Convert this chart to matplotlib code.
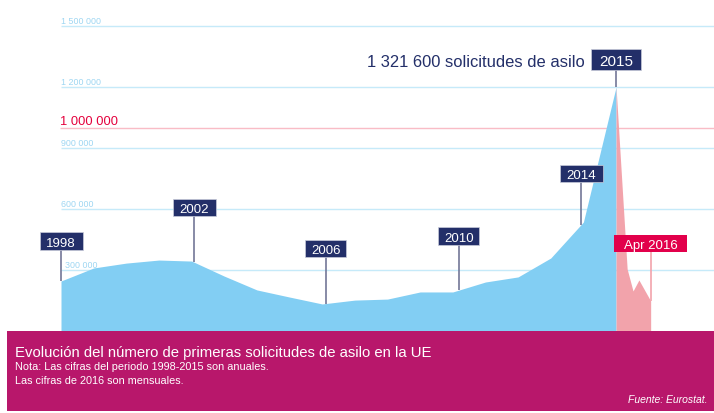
import matplotlib
matplotlib.use('Agg')
import matplotlib.pyplot as plt
from matplotlib.patches import Rectangle
import numpy as np

# ---------------- data ----------------
years = list(range(1998, 2016))
annual = [246000, 310000, 334000, 349000, 344000, 270000, 202000, 167000, 133000,
          152000, 157000, 192000, 192000, 241000, 266000, 359000, 536000, 1200000]
monthly_pos = [2015.0, 2015.34, 2015.52, 2015.70, 2016.06]
monthly = [1200000, 305000, 197000, 251000, 148000]

grid_values = [300000, 600000, 900000, 1200000, 1500000]
grid_labels = ['300 000', '600 000', '900 000', '1 200 000', '1 500 000']
ref_value = 1000000
ref_label = '1 000 000'

year_labels = ['1998', '2002', '2006', '2010', '2014', '2015']
peak_text = '1 321 600 solicitudes de asilo'
last_label = 'Apr 2016'

title = 'Evolución del número de primeras solicitudes de asilo en la UE'
note1 = 'Nota: Las cifras del periodo 1998-2015 son anuales.'
note2 = 'Las cifras de 2016 son mensuales.'
source = 'Fuente: Eurostat.'

# ---------------- style ----------------
plt.rcParams['font.family'] = ['Liberation Sans', 'DejaVu Sans']
BLUE = '#82CEF3'
PINK = '#F2A3AB'
GRID_BLUE = '#C6EAF9'
GRID_RED = '#F9BCC6'
TICK_BLUE = '#9ED6F2'
RED = '#E4003C'
CRIMSON = '#E2004B'
NAVY = '#232F69'
STEM = '#737797'
MAGENTA = '#B8176B'

W, H = 714, 414
fig = plt.figure(figsize=(W / 100, H / 100), dpi=100)
ax = fig.add_axes([0, 0, 1, 1])

PX_YEAR = 32.65   # pixels per year
X0 = 61           # pixel of first year
Y0 = 332          # pixel of value 0
PX_VAL = 203.3e-6 # pixels per unit value

ax.set_xlim(1998 - X0 / PX_YEAR, 1998 + (W - X0) / PX_YEAR)
ax.set_ylim(-(H - Y0) / PX_VAL, Y0 / PX_VAL)
ax.axis('off')

def dx(px):
    return px / PX_YEAR

def dy(px):
    return px / PX_VAL

def py2val(py):
    return (Y0 - py) / PX_VAL

xmax = ax.get_xlim()[1]

# gridlines
for v, lab in zip(grid_values, grid_labels):
    ax.hlines(v, years[0], xmax, color=GRID_BLUE, lw=1.0, zorder=1)
    xoff = 4 if v == 300000 else 0
    ax.text(years[0] + dx(xoff), v + dy(1), lab, ha='left', va='bottom',
            fontsize=6.4, color=TICK_BLUE, zorder=1)
ax.hlines(ref_value, years[0] - dx(1), xmax, color=GRID_RED, lw=1.0, zorder=1)
ax.text(years[0] - dx(1), ref_value + dy(0.5), ref_label, ha='left', va='bottom',
        fontsize=9.3, color=RED, zorder=1)

# areas
ax.fill_between(years, annual, 0, color=BLUE, lw=0, zorder=2)
ax.fill_between(monthly_pos, monthly, 0, color=PINK, lw=0, zorder=2)

# labels with stems
label_layout = {  # label: (x offset px, box centre py, box w, box h, fontsize)
    '1998': (0, 242, 43, 18, 9.5),
    '2002': (2.4, 208.5, 43, 17, 9.5),
    '2006': (3.7, 249.5, 41, 17, 9.5),
    '2010': (6, 237, 41, 18, 9.5),
    '2014': (-2.4, 174.5, 43, 17, 9.5),
    '2015': (0, 60.5, 50, 21, 11),
}
for lab in year_labels:
    xo, pyc, bw, bh, fs = label_layout[lab]
    x = int(lab) + dx(xo)
    ybase = np.interp(x, years, annual)
    yc = py2val(pyc)
    ax.plot([x, x], [ybase, yc], color=STEM, lw=1.2, zorder=3, solid_capstyle='butt')
    ax.add_patch(Rectangle((x - dx(bw / 2), yc - dy(bh / 2)), dx(bw), dy(bh),
                           fc=NAVY, ec='#C9CCDA', lw=0.5, zorder=4))
    cap = 0.716 * fs * 100 / 72
    ax.text(x, yc - dy(cap / 2), lab, ha='center', va='baseline', color='white',
            fontsize=fs, zorder=5)

# peak text
ax.text(years[0] + dx(585 - X0), py2val(67), peak_text, ha='right', va='baseline',
        fontsize=11.9, color=NAVY, zorder=5)

# last monthly label
xl = monthly_pos[-1]
ycl = py2val(244.5)
ax.plot([xl, xl], [monthly[-1], ycl], color=PINK, lw=1.2, zorder=3, solid_capstyle='butt')
ax.add_patch(Rectangle((xl - dx(36.5), ycl - dy(8.5)), dx(73), dy(17),
                       fc=CRIMSON, ec='none', zorder=4))
cap = 0.716 * 9.5 * 100 / 72
ax.text(xl, ycl - dy(cap / 2), last_label, ha='center', va='baseline', color='white',
        fontsize=9.5, zorder=5)

# magenta footer band
ax.add_patch(Rectangle((7 / W, 2 / H), (W - 7) / W, (H - Y0 - 2) / H,
                       transform=ax.transAxes, fc=MAGENTA, ec='none', zorder=6))

def fx(px):
    return px / W

def fy(py):
    return 1 - py / H

fig.text(fx(15), fy(357), title, ha='left', va='baseline', color='white', fontsize=10.7, zorder=7)
fig.text(fx(15), fy(370.5), note1, ha='left', va='baseline', color='white', fontsize=7.8, zorder=7)
fig.text(fx(15), fy(384.5), note2, ha='left', va='baseline', color='white', fontsize=7.8, zorder=7)
fig.text(fx(708), fy(403.5), source, ha='right', va='baseline', color='white', fontsize=7.5,
         style='italic', zorder=7)

fig.savefig('out.png', dpi=100)
